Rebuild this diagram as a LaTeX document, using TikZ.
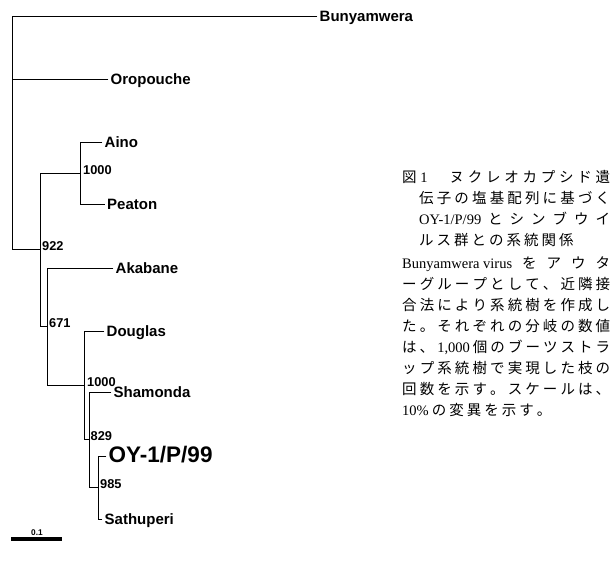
\documentclass[tikz,border=0pt]{standalone}
\usepackage{fontspec}
\setmainfont{Liberation Serif}
\newfontfamily\lsans{Liberation Sans}
\newfontfamily\jpf{Noto Sans CJK JP}
\makeatletter
\newcommand\jspread[2]{\hbox to #1{\def\js@sep{}\@tfor\js@t:=#2\do{\js@sep\js@t\def\js@sep{\hfill}}}}
\newcommand\jfixed[2]{\hbox{\def\js@sep{}\@tfor\js@t:=#2\do{\js@sep\js@t\def\js@sep{\hskip#1\relax}}}}
\makeatother
\newcommand\lat[1]{{\rmfamily\fontsize{14.5}{16}\selectfont #1}}
\begin{document}
\begin{tikzpicture}[x=1pt,y=-1pt,
  br/.style={line width=0.9pt, line cap=rect},
  leaf/.style={font=\lsans\bfseries\fontsize{15}{18}\selectfont, inner xsep=2.5pt, inner ysep=0pt, text height=10.5pt, text depth=0pt, anchor=west},
  leafbig/.style={font=\lsans\bfseries\fontsize{22.5}{26}\selectfont, inner xsep=2.5pt, inner ysep=0pt, text height=13pt, text depth=0pt, anchor=west},
  boot/.style={font=\lsans\bfseries\fontsize{12.8}{15}\selectfont, inner sep=0pt, anchor=base west},
  capline/.style={font=\jpf\fontsize{14.5}{17}\selectfont, inner sep=0pt, anchor=base west}]
\useasboundingbox (0,0) rectangle (613,562);
\fill[white] (0,0) rectangle (613,562);
% internal nodes
\coordinate (root) at (12,130);
\coordinate (n922) at (40,249);
\coordinate (nAP) at (80,173);
\coordinate (n671) at (47,326);
\coordinate (nDS) at (84,385);
\coordinate (n829) at (89,439);
\coordinate (n985) at (98,487);
% leaves
\node[leaf] (bun) at (317,16) {Bunyamwera};
\node[leaf] (oro) at (108,79) {Oropouche};
\node[leaf] (aino) at (102,142) {Aino};
\node[leaf] (pea) at (104.5,204) {Peaton};
\node[leaf] (aka) at (113,268) {Akabane};
\node[leaf] (dou) at (104,331) {Douglas};
\node[leaf] (sha) at (111,392) {Shamonda};
\node[leafbig] (oy) at (106,456) {OY-1/P/99};
\node[leaf] (sat) at (102,519) {Sathuperi};
% branches
\draw[br] (root) |- (bun.west);
\draw[br] (root) |- (oro.west);
\draw[br] (root) |- (n922);
\draw[br] (n922) |- (nAP);
\draw[br] (n922) |- (n671);
\draw[br] (nAP) |- (aino.west);
\draw[br] (nAP) |- (pea.west);
\draw[br] (n671) |- (aka.west);
\draw[br] (n671) |- (nDS);
\draw[br] (nDS) |- (dou.west);
\draw[br] (nDS) |- (n829);
\draw[br] (n829) |- (sha.west);
\draw[br] (n829) |- (n985);
\draw[br] (n985) |- (oy.west);
\draw[br] (n985) |- (sat.west);
% bootstrap values
\node[boot] (b922) at ([xshift=2pt,yshift=-1pt]n922) {922};
\node[boot] (b1000a) at ([xshift=3pt,yshift=-1pt]nAP) {1000};
\node[boot] (b671) at ([xshift=2pt,yshift=-1pt]n671) {671};
\node[boot] (b1000b) at ([xshift=3pt,yshift=-1pt]nDS) {1000};
\node[boot] (b829) at ([xshift=1.5pt,yshift=-1pt]n829) {829};
\node[boot] (b985) at ([xshift=2pt,yshift=-1pt]n985) {985};
% scale bar
\coordinate (sbL) at (11,539);
\coordinate (sbR) at (62,539);
\draw[line width=3.3pt] (sbL) -- (sbR);
\node[font=\lsans\bfseries\fontsize{8.3}{10}\selectfont, inner sep=0pt, anchor=base] (sbt) at (37,535) {0.1};
% caption
\node[capline] (c1) at (402,182.5) {\jspread{208pt}{図{\lat{1}}{\kern1em}ヌクレオカプシド遺}};
\node[capline] (c2) at (419,203.5) {\jspread{191pt}{伝子の塩基配列に基づく}};
\node[capline] (c3) at (419,224.5) {\jspread{191pt}{{\lat{OY-1/P/99}}とシンブウイ}};
\node[capline] (c4) at (419,245.5) {\jfixed{3pt}{ルス群との系統関係}};
\node[capline] (c5) at (402,268.5) {\jspread{208pt}{{\lat{Bunyamwera virus}}をアウタ}};
\node[capline] (c6) at (402,289.5) {\jspread{208pt}{ーグループとして、近隣接}};
\node[capline] (c7) at (402,310.5) {\jspread{208pt}{合法により系統樹を作成し}};
\node[capline] (c8) at (402,331.5) {\jspread{208pt}{た。それぞれの分岐の数値}};
\node[capline] (c9) at (402,352.5) {\jspread{208pt}{は、{\lat{1,000}}個のブーツストラ}};
\node[capline] (c10) at (402,373.5) {\jspread{208pt}{ップ系統樹で実現した枝の}};
\node[capline] (c11) at (402,394.5) {\jspread{208pt}{回数を示す。スケールは、}};
\node[capline] (c12) at (402,415.5) {\jfixed{3pt}{{\lat{10\%}}の変異を示す。}};
\end{tikzpicture}
\end{document}
